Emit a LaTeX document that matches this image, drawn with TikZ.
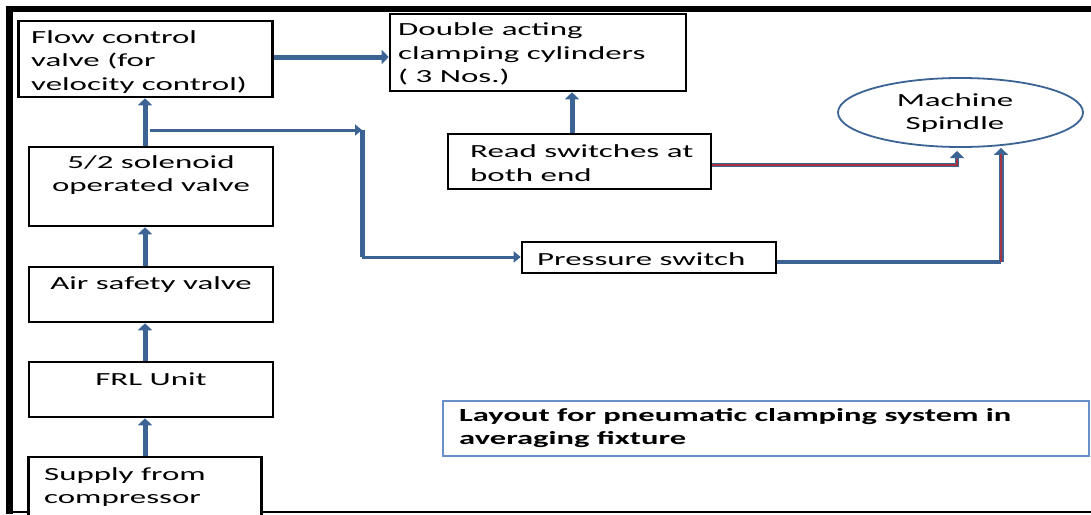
\documentclass[tikz,border=0pt]{standalone}
\usepackage{fontspec}
\setmainfont{Carlito}
\newfontfamily\boxfont[FakeStretch=1.78]{Carlito}
\newfontfamily\capfont[FakeStretch=1.76]{Carlito}
\usetikzlibrary{arrows.meta,shapes.geometric}
\definecolor{flowblue}{HTML}{3B6495}
\definecolor{corered}{HTML}{A8323E}
\definecolor{capblue}{HTML}{6A8FC8}
\tikzset{
  box/.style={draw=black, line width=2.6pt, fill=white, inner sep=0pt},
  lbl/.style={inner sep=0pt, font=\boxfont\fontsize{18.5}{23.5}\selectfont, text=black},
  flow/.style={draw=flowblue, line width=5pt, -{Triangle[length=7pt,width=14pt]}},
  thinflow/.style={draw=flowblue, line width=3pt, -{Triangle[length=7pt,width=11pt]}},
  core/.style={draw=corered, line width=1.4pt},
}
\begin{document}
\begin{tikzpicture}[x=1pt,y=-1pt]
\useasboundingbox (0,0) rectangle (1091,514);
\fill[white] (0,0) rectangle (1091,514);
% frame
\fill[black] (6,6) rectangle (1091,12);
\fill[black] (6,6) rectangle (13,514);
\draw[black, line width=1.5pt] (6,512) -- (1091,512);

% boxes
\node[box, minimum width=254pt, minimum height=76pt] (fcv) at (145.5,59) {};
\node[box, minimum width=244pt, minimum height=79pt] (sol) at (151,186.5) {};
\node[box, minimum width=244pt, minimum height=55pt] (asv) at (151,294.5) {};
\node[box, minimum width=244pt, minimum height=55pt] (frl) at (151,389.5) {};
\node[box, minimum width=233pt, minimum height=60pt] (sup) at (145,487) {};
\node[box, minimum width=296pt, minimum height=77pt] (dac) at (538,52.5) {};
\node[box, minimum width=263pt, minimum height=55pt] (rsw) at (579.5,161.5) {};
\node[box, minimum width=254pt, minimum height=31pt] (psw) at (649,257.5) {};
\node[ellipse, draw=flowblue, line width=1.8pt, minimum width=245pt, minimum height=69pt, inner sep=0pt] (msp) at (960.5,112.5) {};
\node[draw=capblue, line width=2pt, minimum width=646pt, minimum height=55pt, inner sep=0pt] (cap) at (766,428) {};

% texts
\node[lbl, anchor=west, align=left] (tfcv) at (31,62) {Flow control\\valve (for\\velocity control)};
\node[lbl, align=center] (tsol) at (151,175) {5/2 solenoid\\operated valve};
\node[lbl] (tasv) at (151,285) {Air safety valve};
\node[lbl] (tfrl) at (151,379) {FRL Unit};
\node[lbl, anchor=west, align=left] (tsup) at (44,487) {Supply from\\compressor};
\node[lbl, anchor=west, align=left] (tdac) at (398,54) {Double acting\\clamping cylinders\\( 3 Nos.)};
\node[lbl, anchor=west, align=left] (trsw) at (470,163) {Read switches at\\both end};
\node[lbl, anchor=west] (tpsw) at (537,259) {Pressure switch};
\node[lbl, align=center] (tmsp) at (955,113) {Machine\\Spindle};
\node[inner sep=0pt, anchor=west, align=left, font=\capfont\bfseries\fontsize{18.5}{23}\selectfont] (tcap) at (459,428) {Layout for pneumatic clamping system in\\averaging fixture};

% connectors
\coordinate (br) at (150,130);
\coordinate (bc) at (362,130);
\coordinate (bd) at (362,257);
\coordinate (rc) at (957,165);
\coordinate (rt) at (957,151);
\coordinate (pc) at (1001,262);

\draw[flow] (sup.north -| 145,0) -- (frl.south -| 145,0);
\draw[flow] (frl.north -| 145,0) -- (asv.south -| 145,0);
\draw[flow] (asv.north -| 145,0) -- (sol.south -| 145,0);
\draw[flow] (sol.north -| 145,0) -- (fcv.south -| 145,0);
\draw[flow] (fcv.east |- 0,57) -- (dac.west |- 0,57);
\draw[flow] (rsw.north -| 572,0) -- (dac.south -| 572,0);

\draw[thinflow] (br) -- (bc);
\draw[draw=flowblue, line width=5pt] (bc) -- (bd);
\draw[thinflow] (bd) -- (psw.west |- bd);

\draw[flow, line width=4pt] (rsw.east |- rc) -- (rc) -- (rt);
\draw[core] (rsw.east |- rc) -- (rc) -- ++(0,-6);
\draw[draw=flowblue, line width=3.5pt] (psw.east |- pc) -- (pc);
\draw[flow, line width=5pt] (pc) -- (msp.south -| pc);
\draw[core] (pc) -- ++(0,-108);
\end{tikzpicture}
\end{document}
